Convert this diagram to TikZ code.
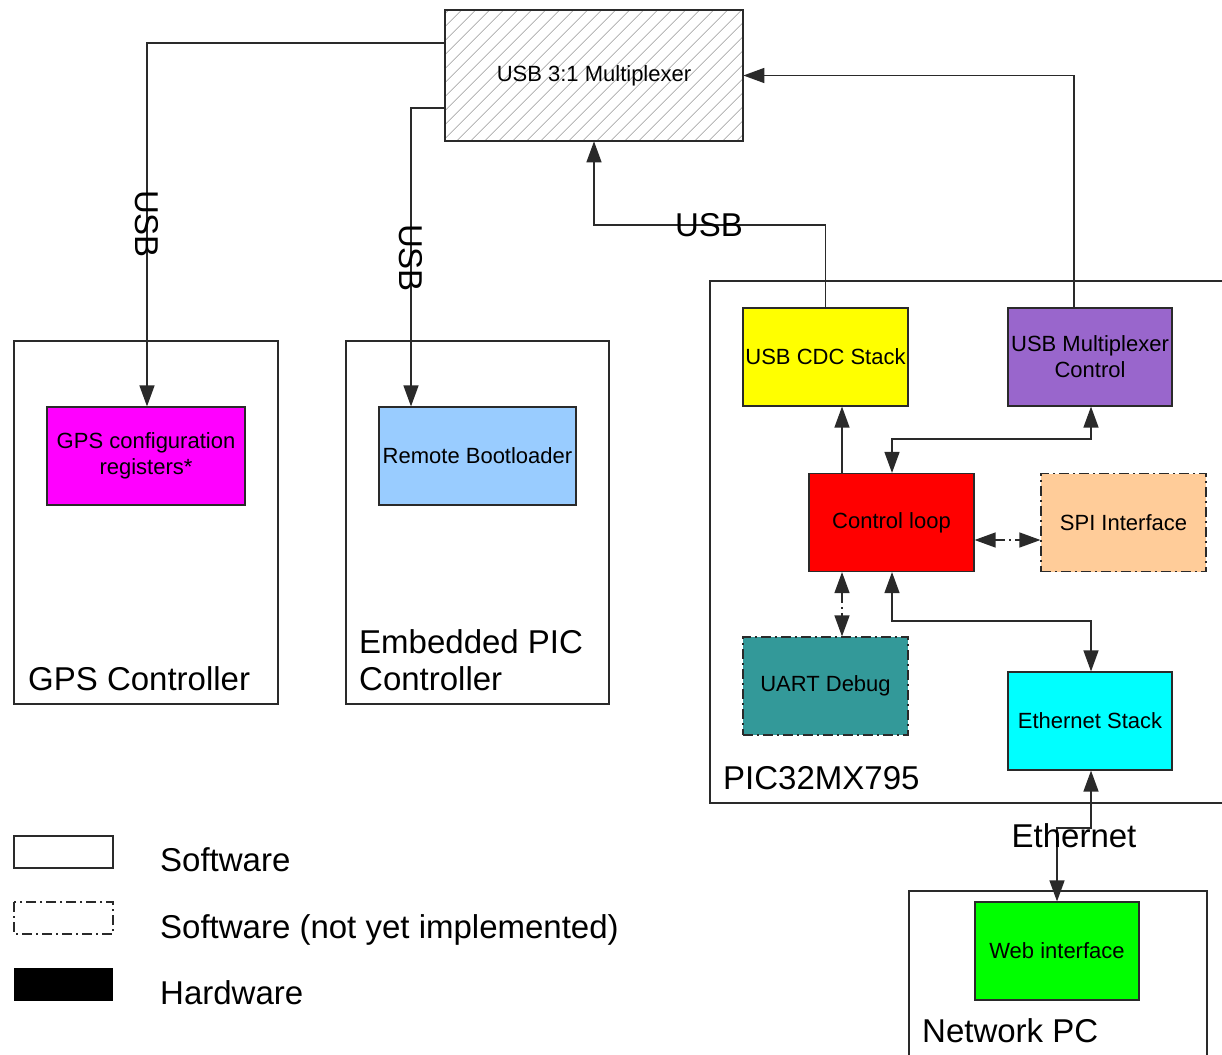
\documentclass[tikz,border=0pt]{standalone}
\usepackage{fontspec}
\setmainfont{Liberation Sans}
\usetikzlibrary{arrows.meta,patterns.meta}

\definecolor{edge}{HTML}{2A2A2A}
\definecolor{cmagenta}{HTML}{FF00FF}
\definecolor{cbluelt}{HTML}{99CCFF}
\definecolor{cyellow}{HTML}{FFFF00}
\definecolor{cpurple}{HTML}{9966CC}
\definecolor{cred}{HTML}{FF0000}
\definecolor{cpeach}{HTML}{FFCC99}
\definecolor{cteal}{HTML}{339999}
\definecolor{ccyan}{HTML}{00FFFF}
\definecolor{cgreen}{HTML}{00FF00}

\tikzset{
  container/.style={draw=edge, line width=1.2pt, fill=white},
  block/.style={draw=edge, line width=1.2pt, font=\fontsize{22}{26}\selectfont,
    align=center, inner sep=0pt, minimum width=165pt, minimum height=98pt},
  todo/.style={dash pattern=on 10pt off 4pt on 2pt off 4pt},
  bigfont/.style={font=\fontsize{33}{38}\selectfont, inner sep=0pt},
  biglabel/.style={bigfont, anchor=base west},
  link/.style={draw=edge, line width=1.4pt},
  tip/.style={-{Triangle[length=21pt,width=15pt]}},
  tips/.style={{Triangle[length=21pt,width=15pt]}-{Triangle[length=21pt,width=15pt]}},
}

\begin{document}
\begin{tikzpicture}[x=1pt,y=-1pt]
\clip (0,0) rectangle (1222,1054);
\fill[white] (0,0) rectangle (1222,1054);

% --- outer device containers ---
\draw[container] (14,341) rectangle (278,704);
\node[biglabel] (lgps) at (28,690) {GPS Controller};
\draw[container] (346,341) rectangle (609,704);
\node[biglabel] (lpic) at (359,653) {Embedded PIC};
\node[biglabel] (lpic2) at (359,690) {Controller};
\draw[container] (710,281) rectangle (1240,803);
\node[biglabel] (lmcu) at (723,789) {PIC32MX795};
\draw[container] (909,891) rectangle (1207,1080);
\node[biglabel] (lpc) at (922,1042) {Network PC};

% --- multiplexer (hardware, hatched) ---
\node[draw=edge, line width=1.2pt, minimum width=298pt, minimum height=131pt,
      pattern={Lines[angle=45,distance=10.5pt,line width=0.7pt]}, pattern color=gray!80,
      font=\fontsize{22}{26}\selectfont, inner sep=0pt] (mux) at (594,75.5) {USB 3:1 Multiplexer};

% --- software blocks ---
\node[block, fill=cmagenta, minimum width=198pt] (gpsreg) at (146,456) {GPS configuration\\registers*};
\node[block, fill=cbluelt, minimum width=197pt] (boot) at (477.5,456) {Remote Bootloader};
\node[block, fill=cyellow] (cdc) at (825.5,357) {USB CDC Stack};
\node[block, fill=cpurple, minimum width=164pt] (muxctl) at (1090,357) {USB Multiplexer\\Control};
\node[block, fill=cred] (ctrl) at (891.5,522.5) {Control loop};
\node[block, fill=cpeach, todo] (spi) at (1123.5,522.5) {SPI Interface};
\node[block, fill=cteal, todo] (uart) at (825.5,686) {UART Debug};
\node[block, fill=ccyan, minimum width=164pt] (eth) at (1090,721) {Ethernet Stack};
\node[block, fill=cgreen, minimum width=164pt] (web) at (1057,951) {Web interface};

% --- USB links from the multiplexer ---
\draw[link, tip] (mux.west |- 0,43) -| (gpsreg.north -| 147,0);
\node[bigfont, rotate=-90] (usb1) at (147,224) {USB};
\draw[link, tip] (mux.west |- 0,108) -| (boot.north -| 411,0);
\node[bigfont, rotate=-90] (usb2) at (411,258) {USB};
\draw[link, tip] (cdc.north) |- (709,225) -| (mux.south);
\node[bigfont] (usb3) at (709,225) {USB};
\draw[link, tip] (muxctl.north -| 1074,0) |- (mux.east);

% --- links inside the PIC32 ---
\draw[link, tip] (ctrl.north -| 842,0) -- (cdc.south -| 842,0);
\draw[link, tips] (ctrl.north -| 892,0) |- (1091,439) -- (muxctl.south -| 1091,0);
\draw[link, tips, todo] (ctrl.east |- 0,540) -- (spi.west |- 0,540);
\draw[link, tips, todo] (ctrl.south -| 842,0) -- (uart.north -| 842,0);
\draw[link, tips] (ctrl.south -| 892,0) |- (1091,621) -- (eth.north -| 1091,0);

% --- ethernet to the network PC ---
\draw[link, tips] (eth.south -| 1091,0) |- (1057,828) -- (web.north -| 1057,0);
\node[bigfont] (ethl) at (1074,836) {Ethernet};

% --- legend ---
\draw[draw=edge, line width=1.2pt] (14,836) rectangle (113,868);
\node[biglabel] (k1) at (160,871) {Software};
\draw[draw=edge, line width=1.2pt, todo] (14,902) rectangle (113,934);
\node[biglabel] (k2) at (160,938) {Software (not yet implemented)};
\fill[black] (14,968) rectangle (113,1001);
\node[biglabel] (k3) at (160,1004) {Hardware};
\end{tikzpicture}
\end{document}
